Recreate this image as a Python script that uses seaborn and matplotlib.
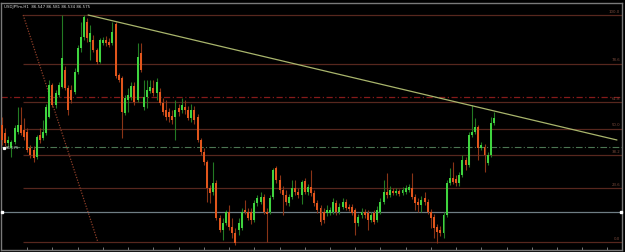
import numpy as np
import pandas as pd
import matplotlib
matplotlib.use("Agg")
import matplotlib.pyplot as plt
import seaborn as sns

# ---------------- data ----------------
opens = [86.75, 86.67, 86.57, 86.52, 86.58, 86.68, 86.75, 86.70, 86.68, 86.52,
         86.50, 86.43, 86.65, 86.62, 86.67, 86.83, 87.15, 86.95, 87.05, 87.13,
         87.30, 87.12, 87.10, 87.08, 87.28, 87.52, 87.63, 87.78, 87.58, 87.60,
         87.50, 87.38, 87.57, 87.60, 87.58, 87.57, 87.76, 87.25, 87.22, 86.87,
         87.00, 87.03, 87.14, 87.00, 87.47, 86.93, 87.03, 87.09, 87.12, 87.07,
         87.08, 86.97, 86.90, 86.88, 86.84, 86.83, 86.92, 86.90, 86.93, 86.90,
         86.82, 86.90, 86.83, 86.60, 86.48, 86.38, 86.12, 86.08, 86.17, 85.82,
         85.70, 85.77, 85.88, 85.73, 85.67, 85.70, 85.72, 85.90, 85.88, 85.88,
         85.80, 85.97, 85.98, 86.03, 85.88, 85.88, 86.03, 86.32, 86.20, 86.10,
         86.05, 85.97, 86.03, 86.12, 86.08, 86.05, 86.19, 86.08, 86.13, 86.07,
         85.97, 85.92, 85.88, 85.87, 85.87, 85.88, 85.97, 85.88, 85.93, 85.98,
         85.93, 85.93, 85.90, 85.77, 85.85, 85.88, 85.87, 85.80, 85.87, 85.80,
         85.88, 85.98, 86.08, 86.05, 86.09, 86.07, 86.09, 86.07, 86.08, 86.10,
         86.12, 86.03, 85.98, 85.95, 86.02, 85.98, 85.88, 85.83, 85.73, 85.70,
         85.67, 85.85, 86.17, 86.22, 86.21, 86.17, 86.25, 86.40, 86.35, 86.65,
         86.68, 86.73, 86.52, 86.53, 86.37, 86.45, 86.77]
highs = [86.83, 86.72, 86.64, 86.60, 86.75, 86.93, 86.93, 86.82, 86.72, 86.55,
         86.54, 86.65, 86.72, 86.80, 86.96, 87.20, 87.17, 87.10, 87.18, 87.85,
         87.34, 87.15, 87.15, 87.32, 87.55, 87.78, 87.85, 87.82, 87.75, 87.65,
         87.52, 87.62, 87.63, 87.64, 87.62, 87.78, 87.78, 87.27, 87.24, 87.05,
         87.12, 87.18, 87.18, 87.57, 87.57, 87.20, 87.20, 87.20, 87.20, 87.22,
         87.12, 87.02, 87.00, 86.92, 86.90, 87.00, 86.96, 87.02, 87.00, 86.94,
         86.96, 86.94, 86.86, 86.62, 86.52, 86.40, 86.15, 86.38, 86.20, 85.85,
         85.82, 85.90, 85.95, 85.82, 85.72, 85.82, 85.92, 86.00, 85.92, 85.92,
         86.00, 86.05, 86.08, 86.06, 85.92, 86.05, 86.32, 86.34, 86.25, 86.14,
         86.10, 86.06, 86.20, 86.20, 86.12, 86.20, 86.22, 86.16, 86.30, 86.10,
         86.00, 85.95, 85.92, 85.95, 85.93, 86.02, 86.00, 85.97, 86.02, 86.01,
         85.96, 85.96, 85.92, 85.86, 85.92, 85.91, 85.90, 85.88, 85.90, 85.94,
         86.02, 86.20, 86.27, 86.14, 86.12, 86.12, 86.11, 86.13, 86.15, 86.16,
         86.27, 86.06, 86.02, 86.04, 86.08, 86.01, 85.91, 85.86, 85.76, 85.74,
         85.88, 86.20, 86.32, 86.38, 86.25, 86.28, 86.45, 86.43, 86.68, 86.95,
         86.82, 86.75, 86.58, 86.56, 86.48, 86.83, 86.88]
lows = [86.55, 86.54, 86.53, 86.43, 86.56, 86.66, 86.65, 86.60, 86.48, 86.42,
        86.38, 86.41, 86.57, 86.60, 86.65, 86.82, 86.93, 86.92, 87.03, 87.12,
        87.10, 86.85, 86.97, 87.06, 87.26, 87.48, 87.60, 87.58, 87.40, 87.48,
        87.36, 87.37, 87.55, 87.54, 87.53, 87.55, 87.22, 87.18, 86.62, 86.85,
        86.88, 87.00, 86.95, 86.98, 87.28, 86.90, 86.92, 87.07, 87.04, 87.00,
        86.95, 86.85, 86.80, 86.78, 86.76, 86.60, 86.84, 86.87, 86.86, 86.80,
        86.78, 86.76, 86.58, 86.45, 86.35, 85.98, 85.97, 86.05, 85.80, 85.68,
        85.60, 85.75, 85.70, 85.62, 85.55, 85.65, 85.70, 85.86, 85.80, 85.76,
        85.78, 85.94, 85.96, 85.86, 85.58, 85.86, 86.01, 86.17, 86.07, 85.85,
        85.95, 85.94, 86.01, 86.05, 86.02, 85.96, 86.06, 86.05, 86.04, 85.94,
        85.87, 85.75, 85.77, 85.84, 85.85, 85.86, 85.85, 85.86, 85.91, 85.90,
        85.89, 85.85, 85.65, 85.74, 85.82, 85.82, 85.70, 85.78, 85.76, 85.78,
        85.86, 85.96, 86.02, 86.03, 86.05, 86.05, 86.04, 86.05, 86.06, 86.08,
        86.01, 85.90, 85.88, 85.88, 85.95, 85.86, 85.72, 85.62, 85.57, 85.64,
        85.62, 85.83, 86.15, 86.16, 86.14, 86.14, 86.23, 86.30, 86.33, 86.63,
        86.66, 86.40, 86.50, 86.28, 86.35, 86.43, 86.75]
closes = [86.60, 86.57, 86.60, 86.58, 86.72, 86.75, 86.67, 86.63, 86.50, 86.45,
          86.42, 86.63, 86.60, 86.68, 86.93, 87.15, 86.95, 87.07, 87.15, 87.42,
          87.12, 86.90, 87.00, 87.28, 87.52, 87.63, 87.83, 87.62, 87.67, 87.50,
          87.38, 87.60, 87.60, 87.57, 87.55, 87.68, 87.24, 87.20, 86.88, 87.02,
          87.05, 87.14, 86.98, 87.43, 87.30, 87.03, 87.10, 87.13, 87.07, 87.18,
          86.97, 86.88, 86.83, 86.83, 86.80, 86.90, 86.88, 86.95, 86.90, 86.82,
          86.90, 86.80, 86.60, 86.48, 86.38, 86.12, 86.07, 86.17, 85.82, 85.70,
          85.77, 85.88, 85.73, 85.67, 85.57, 85.77, 85.88, 85.88, 85.82, 85.80,
          85.97, 86.02, 86.03, 85.88, 85.86, 86.02, 86.30, 86.20, 86.10, 86.05,
          85.98, 86.03, 86.12, 86.08, 86.05, 86.18, 86.08, 86.13, 86.07, 85.97,
          85.90, 85.78, 85.80, 85.90, 85.90, 85.98, 85.88, 85.93, 85.98, 85.92,
          85.91, 85.87, 85.77, 85.83, 85.88, 85.85, 85.80, 85.85, 85.78, 85.90,
          85.98, 86.08, 86.05, 86.10, 86.07, 86.09, 86.06, 86.10, 86.12, 86.13,
          86.03, 85.97, 85.95, 86.00, 85.98, 85.88, 85.82, 85.72, 85.68, 85.67,
          85.85, 86.17, 86.22, 86.18, 86.17, 86.25, 86.40, 86.35, 86.65, 86.68,
          86.73, 86.52, 86.55, 86.45, 86.45, 86.77, 86.82]

fib_high = 87.85
fib_low = 85.58
fib_ratios = [1.0, 0.786, 0.618, 0.5, 0.382, 0.236, 0.0]
fib_labels = ["100.0", "78.6", "61.8", "50.0", "38.2", "23.6", "0.0"]
fib_bars = [6.7, 30.4]            # anchor bars of the fibonacci tool
trend_bars = [27.3, 195.0]
trend_prices = [87.85, 86.60]
red_level = 87.03
green_level = 86.53
gray_level = 85.88
title_text = "USDJPYm,H1  86.547 86.581 86.534 86.575"
left_label = "86.575"

# ---------------- style ----------------
sns.set_theme(style="dark", rc={"axes.facecolor": "black",
                                "figure.facecolor": "black"})
plt.rcParams["font.family"] = ["DejaVu Sans"]

df = pd.DataFrame({"open": opens, "high": highs, "low": lows, "close": closes})
df["bar"] = np.arange(len(df))
df["up"] = df["close"] >= df["open"]

fig = plt.figure(figsize=(6.25, 2.52), dpi=100, facecolor="black")
ax = fig.add_axes([1 / 625, 2 / 252, 621 / 625, 247 / 252])
ax.set_facecolor("black")

x_lo, x_hi = -0.32, 196.6
ax.set_xlim(x_lo, x_hi)
ax.set_ylim(85.50, 87.97)

fib_color = "#57271e"
# fibonacci levels
for r, lab in zip(fib_ratios, fib_labels):
    lvl = fib_low + r * (fib_high - fib_low)
    ax.hlines(lvl, fib_bars[0], x_hi, color=fib_color, lw=0.9, zorder=1)
    ax.text(x_hi - 0.6, lvl + 0.012, lab, color="#7a4a3c", fontsize=2.8,
            ha="right", va="bottom", zorder=2)

# fib diagonal (dotted)
sns.lineplot(x=fib_bars, y=[fib_high, fib_low], ax=ax, color="#8e3e28",
             lw=0.9, linestyle=(0, (1, 1.2)), zorder=2)

# horizontal lines
ax.axhline(red_level, color="#861a1a", lw=0.9, linestyle=(0, (5, 2, 1, 2)), zorder=1)
ax.axhline(green_level, color="#4c7653", lw=0.8, linestyle=(0, (6, 2, 1, 2)), zorder=1)
ax.axhline(gray_level, color="#6f7d84", lw=0.9, zorder=1)
ax.plot([x_lo + 0.35, x_hi - 0.35], [gray_level, gray_level], "s", ms=1.6,
        color="white", zorder=6, clip_on=False)

# candles: wicks then bodies
green_body, red_body = "#3fd43f", "#e2561c"
green_wick, red_wick = "#237a23", "#8a3416"
up = df[df["up"]]
dn = df[~df["up"]]
ax.vlines(up["bar"], up["low"], up["high"], color=green_wick, lw=0.8, zorder=3)
ax.vlines(dn["bar"], dn["low"], dn["high"], color=red_wick, lw=0.8, zorder=3)
body_bottom = np.minimum(df["open"], df["close"])
body_height = np.maximum((df["close"] - df["open"]).abs(), 0.008)
ax.bar(df["bar"], body_height, bottom=body_bottom, width=0.62,
       color=np.where(df["up"], green_body, red_body), linewidth=0, zorder=4)

# trend line
sns.lineplot(x=trend_bars, y=trend_prices, ax=ax, color="#a9b56c", lw=0.9, zorder=5)

# texts
ax.text(0.5, 87.93, title_text, color="#d8d8d8", fontsize=2.9, ha="left",
        va="center", zorder=7, family=["Liberation Sans Narrow", "DejaVu Sans"])
ax.plot([0.6], [green_level - 0.012], "s", ms=1.3, color="white", zorder=7)
ax.text(1.3, green_level - 0.012, left_label, color="#c8c8c8", fontsize=2.8,
        ha="left", va="center", zorder=7)

# frame and bottom ticks
for s in ax.spines.values():
    s.set_color("#7a7a7a")
    s.set_linewidth(1.0)
ax.set_xticks(np.arange(8, 197, 8))
ax.set_yticks([])
ax.tick_params(axis="x", direction="in", length=2, width=0.6, color="#8a8a8a",
               labelbottom=False, bottom=True)
ax.grid(False)
ax.set_xlabel("")
ax.set_ylabel("")
leg = ax.get_legend()
if leg:
    leg.remove()

fig.savefig("out.png", dpi=100, facecolor="black")
